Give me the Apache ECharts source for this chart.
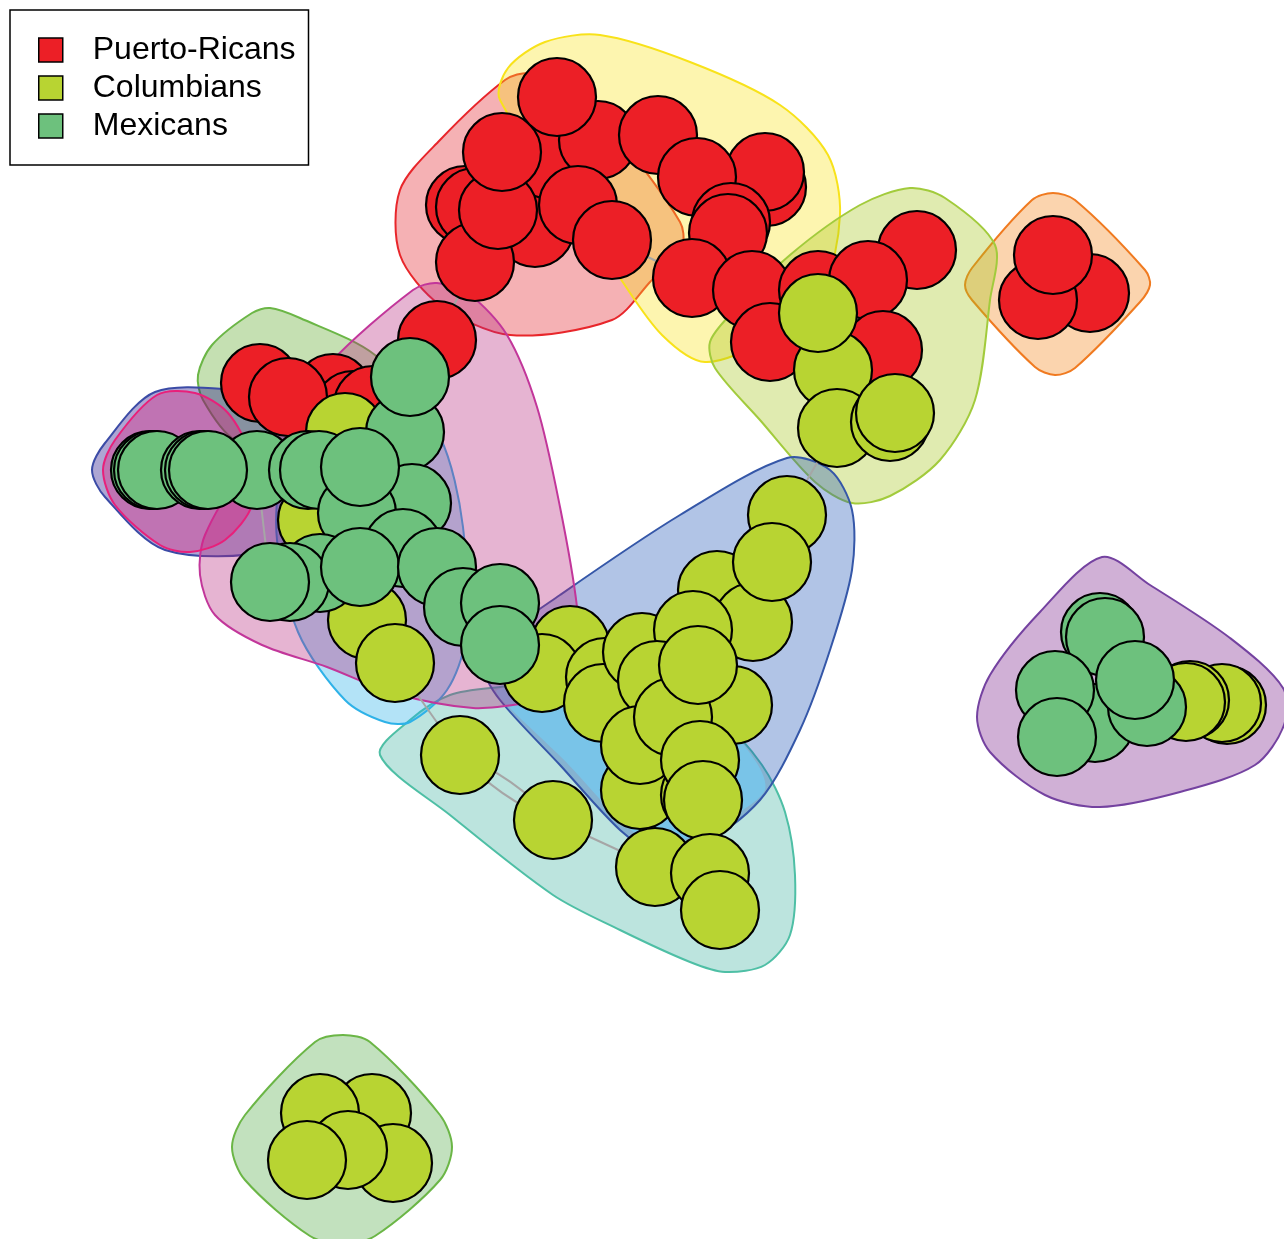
<!DOCTYPE html>
<html>
<head>
<meta charset="utf-8">
<script src="https://cdn.jsdelivr.net/npm/echarts@6/dist/echarts.min.js"></script>
<style>
  html, body { margin: 0; padding: 0; background: #ffffff; }
  #chart { width: 1284px; height: 1239px; }
</style>
</head>
<body>
<div id="chart"></div>
<script>
// Ethnic groups (node categories) and their colours
const ethnicities = ['Puerto-Ricans', 'Columbians', 'Mexicans'];
const nodeColors = ['#EC1F26', '#B8D432', '#6DC17D'];
const P = 0, C = 1, M = 2;

// Node layout positions [x, y, ethnicity], listed back to front per cluster
const northNodes = [
  [465, 205, P], [475, 207, P], [535, 228, P], [550, 160, P], [598, 140, P], [578, 205, P],
  [475, 262, P], [498, 210, P], [502, 152, P], [557, 97, P], [612, 240, P],
  [658, 135, P], [767, 187, P], [765, 172, P], [697, 177, P], [731, 222, P], [728, 233, P],
  [692, 278, P], [752, 290, P],
  [917, 250, P], [818, 290, P], [868, 280, P], [883, 350, P], [770, 342, P],
  [833, 370, C], [818, 313, C], [837, 428, C], [890, 422, C], [895, 413, C]
];
const orangeNodes = [[1090, 293, P], [1038, 300, P], [1053, 255, P]];
const centerNodes = [
  [570, 645, C], [542, 673, C], [605, 677, C], [603, 703, C], [642, 652, C],
  [717, 590, C], [787, 515, C], [753, 622, C], [772, 562, C], [693, 630, C],
  [657, 680, C], [733, 705, C], [640, 790, C], [640, 745, C], [673, 717, C], [698, 665, C],
  [700, 795, C], [700, 760, C], [703, 800, C],
  [553, 820, C], [460, 755, C],
  [655, 867, C], [710, 873, C], [720, 910, C]
];
const westNodes = [
  [437, 340, P],
  [333, 393, P], [353, 410, P], [373, 405, P], [260, 383, P], [288, 397, P],
  [345, 432, C], [317, 520, C],
  [405, 432, M], [410, 377, M],
  [257, 470, M], [150, 470, M], [153, 470, M], [157, 470, M], [200, 470, M], [204, 470, M], [208, 470, M],
  [308, 470, M], [319, 470, M],
  [412, 503, M], [357, 513, M], [360, 467, M],
  [367, 620, C],
  [320, 573, M], [290, 582, M], [270, 582, M], [403, 548, M], [360, 567, M],
  [395, 663, C],
  [437, 567, M], [463, 607, M], [500, 603, M], [500, 645, M]
];
const eastNodes = [
  [1100, 632, M], [1105, 637, M], [1095, 723, M], [1055, 690, M], [1057, 737, M],
  [1227, 705, C], [1222, 703, C], [1190, 700, C], [1186, 702, C],
  [1147, 707, M], [1135, 680, M]
];
const southNodes = [[372, 1113, C], [320, 1113, C], [393, 1163, C], [348, 1150, C], [307, 1160, C]];

// Ties between nodes: [cluster:index, cluster:index, curveness]
const edges = [
  ['center:20', 'center:19', 0.12], ['center:20', 'center:19', -0.12],
  ['west:28', 'center:20', 0],
  ['center:19', 'center:21', 0],
  ['center:12', 'center:21', 0],
  ['west:0', 'north:6', 0],
  ['west:10', 'west:25', 0],
  ['center:6', 'north:26', 0],
  ['north:10', 'north:17', 0]
];

// Group outlines (vertices in layout space), in drawing order
const hullRed = [[400,190],[440,140],[505,80],[530,73],[560,85],[620,140],[680,222],[682,245],[650,282],[612,320],[510,335],[440,305],[400,255]];
const hullOrange = [[1053,193],[1075,200],[1145,270],[1150,285],[1140,302],[1075,368],[1055,375],[1035,367],[972,300],[965,285],[972,268],[1032,200]];
const hullYellow = [[500,100],[508,68],[545,42],[600,35],[690,62],[780,105],[828,155],[840,215],[822,290],[765,340],[705,362],[662,335],[620,278]];
const hullLime = [[910,188],[945,198],[995,245],[990,300],[975,400],[940,460],[890,496],[852,503],[815,482],[760,420],[715,368],[710,342],[730,315],[790,255],[860,205]];
const hullGreenWest = [[270,308],[300,318],[375,355],[395,395],[385,440],[300,455],[235,440],[203,400],[198,375],[212,345],[252,313]];
const hullGreenSouth = [[343,1035],[370,1042],[440,1115],[452,1147],[440,1180],[375,1236],[343,1244],[310,1236],[245,1180],[232,1147],[245,1115],[315,1042]];
const hullTeal = [[380,755],[410,720],[450,695],[500,687],[580,680],[660,690],[722,722],[762,765],[785,812],[795,875],[790,935],[765,965],[725,972],[690,962],[620,930],[553,895],[450,815]];
const hullCyan = [[358,368],[390,378],[440,437],[463,527],[465,640],[447,690],[410,722],[385,722],[345,700],[298,632],[277,540],[282,470],[315,400]];
const hullAzure = [[787,458],[830,470],[852,510],[852,570],[830,650],[800,730],[760,800],[700,845],[650,848],[620,830],[560,765],[500,700],[485,670],[500,640],[560,595],[680,515]];
const hullAzureTeal = [[497,690],[580,680],[660,690],[722,722],[758,765],[765,790],[740,812],[698,836],[652,840],[626,826],[566,762],[508,706]];
const hullBlue = [[92,470],[105,443],[155,392],[240,390],[320,400],[372,432],[385,470],[335,505],[272,550],[165,550],[105,497]];
const hullViolet = [[1102,557],[1150,585],[1230,638],[1283,688],[1284,725],[1255,765],[1180,792],[1100,807],[1045,795],[990,752],[977,717],[990,675],[1040,612]];
const hullMagenta = [[413,290],[437,283],[470,295],[507,335],[537,407],[560,507],[577,607],[578,660],[557,695],[527,703],[473,708],[393,693],[327,667],[262,645],[215,615],[200,575],[205,535],[245,468],[330,363]];
const hullRose = [[103,470],[115,440],[157,395],[195,393],[228,413],[250,455],[252,505],[225,540],[190,552],[160,545],[115,505]];

const hulls = [
  { pts: hullRed,        fill: 'rgba(226,32,41,0.35)',   stroke: '#E8262B' },
  { pts: hullOrange,     fill: 'rgba(243,132,24,0.35)',  stroke: '#F07A20' },
  { pts: hullYellow,     fill: 'rgba(249,226,26,0.35)',  stroke: '#F8E21A' },
  { pts: hullLime,       fill: 'rgba(166,198,29,0.35)',  stroke: '#A2CB3C' },
  { pts: hullGreenWest,  fill: 'rgba(89,166,35,0.35)',   stroke: '#6BB646' },
  { pts: hullGreenSouth, fill: 'rgba(80,170,70,0.35)',   stroke: '#6BB646' },
  { pts: hullTeal,       fill: 'rgba(64,178,161,0.35)',  stroke: '#4EBFA5' },
  { pts: hullCyan,       fill: 'rgba(38,175,232,0.35)',  stroke: '#2EB2E8' },
  { pts: hullAzure,      fill: 'rgba(32,86,184,0.35)',   stroke: '#3557A8' },
  { pts: hullAzureTeal,  fill: 'rgba(110,214,255,0.5)',  stroke: 'none' },
  { pts: hullBlue,       fill: 'rgba(20,0,130,0.35)',    stroke: '#3B4BA6' },
  { pts: hullViolet,     fill: 'rgba(121,29,138,0.35)',  stroke: '#7442A0' },
  { pts: hullMagenta,    fill: 'rgba(184,40,126,0.35)',  stroke: '#C2369A' },
  { pts: hullRose,       fill: 'rgba(230,20,120,0.35)',  stroke: '#E8207A' }
];

// Build graph nodes and links
const clusters = { north: northNodes, orange: orangeNodes, center: centerNodes, west: westNodes, east: eastNodes, south: southNodes };
const graphNodes = [];
Object.keys(clusters).forEach(function (key) {
  clusters[key].forEach(function (n, i) {
    graphNodes.push({ name: key + ':' + i, value: [n[0], n[1]], category: n[2] });
  });
});
const graphLinks = edges.map(function (e) {
  return { source: e[0], target: e[1], lineStyle: { curveness: e[2] } };
});

const chart = echarts.init(document.getElementById('chart'), null, { renderer: 'canvas' });
chart.setOption({
  animation: false,
  backgroundColor: '#ffffff',
  grid: { left: 0, right: 0, top: 0, bottom: 0 },
  xAxis: { type: 'value', min: 0, max: 1284, show: false },
  yAxis: { type: 'value', min: 0, max: 1239, inverse: true, show: false },
  legend: {
    data: ethnicities,
    orient: 'vertical',
    left: 10,
    top: 10,
    backgroundColor: '#ffffff',
    borderColor: '#000000',
    borderWidth: 1.5,
    borderRadius: 0,
    padding: [24, 13, 23, 28],
    itemGap: 6,
    itemWidth: 24,
    itemHeight: 24,
    icon: 'rect',
    selectedMode: false,
    itemStyle: { borderColor: '#000000', borderWidth: 1.5 },
    textStyle: {
      fontFamily: '"Liberation Sans", Arial, sans-serif',
      fontSize: 32,
      lineHeight: 32,
      color: '#000000',
      padding: [0, 0, 0, 25]
    },
    z: 10
  },
  series: [
    {
      type: 'custom',
      name: 'groups',
      coordinateSystem: 'cartesian2d',
      silent: true,
      clip: false,
      z: 1,
      data: hulls.map(function (h, i) { return [i, 0]; }),
      renderItem: function (params, api) {
        const h = hulls[params.dataIndex];
        const pts = h.pts.map(function (p) { return api.coord(p); });
        return {
          type: 'polygon',
          shape: { points: pts, smooth: 0.3 },
          style: { fill: h.fill, stroke: h.stroke, lineWidth: 2 }
        };
      }
    },
    {
      type: 'graph',
      coordinateSystem: 'cartesian2d',
      layout: 'none',
      silent: true,
      z: 3,
      symbol: 'circle',
      symbolSize: 78,
      categories: ethnicities.map(function (n, i) {
        return { name: n, itemStyle: { color: nodeColors[i] } };
      }),
      itemStyle: { borderColor: '#000000', borderWidth: 2.2, opacity: 1 },
      lineStyle: { color: '#A6A6A6', width: 2, opacity: 1 },
      emphasis: { disabled: true },
      label: { show: false },
      data: graphNodes,
      links: graphLinks
    }
  ]
});
</script>
</body>
</html>
